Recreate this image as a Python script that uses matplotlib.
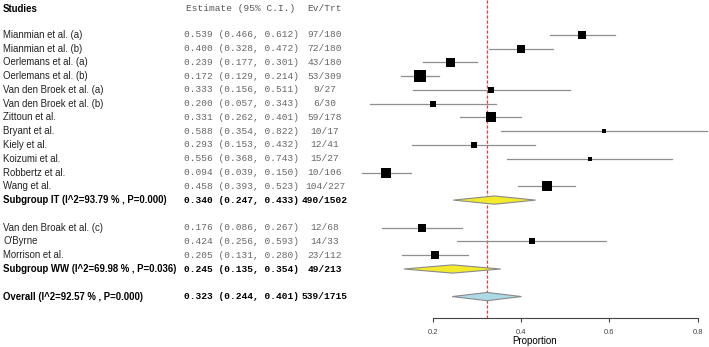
import matplotlib
matplotlib.use("Agg")
import matplotlib.pyplot as plt
from matplotlib.transforms import blended_transform_factory

# ---- data ----
studies = ["Mianmian et al. (a)", "Mianmian et al. (b)", "Oerlemans et al. (a)",
           "Oerlemans et al. (b)", "Van den Broek et al. (a)", "Van den Broek et al. (b)",
           "Zittoun et al.", "Bryant et al.", "Kiely et al.", "Koizumi et al.",
           "Robbertz et al.", "Wang et al.",
           "Van den Broak et al. (c)", "O'Byrne", "Morrison et al."]
est = [0.539, 0.400, 0.239, 0.172, 0.333, 0.200, 0.331, 0.588, 0.293, 0.556,
       0.094, 0.458, 0.176, 0.424, 0.205]
lo = [0.466, 0.328, 0.177, 0.129, 0.156, 0.057, 0.262, 0.354, 0.153, 0.368,
      0.039, 0.393, 0.086, 0.256, 0.131]
hi = [0.612, 0.472, 0.301, 0.214, 0.511, 0.343, 0.401, 0.822, 0.432, 0.743,
      0.150, 0.523, 0.267, 0.593, 0.280]
ev_trt = ["97/180", "72/180", "43/180", "53/309", "9/27", "6/30", "59/178",
          "10/17", "12/41", "15/27", "10/106", "104/227", "12/68", "14/33", "23/112"]
weight = [72, 72, 81, 144, 30, 36, 90, 20, 36, 25, 110, 90, 56, 30, 72]

summ_names = ["Subgroup IT (I^2=93.79 % , P=0.000)",
              "Subgroup WW (I^2=69.98 % , P=0.036)",
              "Overall (I^2=92.57 % , P=0.000)"]
summ_est = [0.340, 0.245, 0.323]
summ_lo = [0.247, 0.135, 0.244]
summ_hi = [0.433, 0.354, 0.401]
summ_ev = ["490/1502", "49/213", "539/1715"]
summ_color = ["#f2ea2c", "#f2ea2c", "#add8e6"]

ticks = [0.2, 0.4, 0.6, 0.8]

# ---- row layout ----
rows = list(range(12)) + [14, 15, 16]
summ_rows = [12, 17, 19]
axis_row = 20.53

fig = plt.figure(figsize=(7.09, 3.47), dpi=100)
ax = fig.add_axes([0, 0, 1, 1])
ax.set_xlim(-344.4 / 441.5, (709 - 344.4) / 441.5)
ax.set_ylim(22.66, -2.52)

SANS = "Liberation Sans"
MONO = "Liberation Mono"
NAME_FS, MONO_FS = 6.9, 6.8
tr = blended_transform_factory(fig.transFigure, ax.transData)
X_NAME, X_EST, X_EV = 3 / 709, 241 / 709, 325 / 709

# header
ax.text(X_NAME, -1.87, "Studies", transform=tr, fontsize=NAME_FS, family=SANS,
        weight="bold", va="center", ha="left")
ax.text(X_EST, -1.87, "Estimate (95% C.I.)", transform=tr, fontsize=MONO_FS,
        family=MONO, color="#555555", va="center", ha="center")
ax.text(X_EV, -1.87, "Ev/Trt", transform=tr, fontsize=MONO_FS, family=MONO,
        color="#555555", va="center", ha="center")

# studies
for r, name, e, l, h, et, w in zip(rows, studies, est, lo, hi, ev_trt, weight):
    ax.plot([l, h], [r, r], color="#8f8f8f", lw=0.9, zorder=2)
    ax.plot(e, r, marker="s", color="black", ms=0.72 * w ** 0.5, mew=0, zorder=3)
    ax.text(X_NAME, r, name, transform=tr, fontsize=NAME_FS, family=SANS,
            color="#222222", va="center", ha="left")
    ax.text(X_EST, r, f"{e:.3f} ({l:.3f}, {h:.3f})", transform=tr, fontsize=MONO_FS,
            family=MONO, color="#666666", va="center", ha="center")
    ax.text(X_EV, r, et, transform=tr, fontsize=MONO_FS, family=MONO,
            color="#666666", va="center", ha="center")

# summaries
for r, name, e, l, h, et, c in zip(summ_rows, summ_names, summ_est, summ_lo,
                                   summ_hi, summ_ev, summ_color):
    ax.fill([l, e, h, e], [r, r - 0.3, r, r + 0.3], facecolor=c,
            edgecolor="#8a8a8a", lw=0.8, zorder=3)
    ax.text(X_NAME, r, name, transform=tr, fontsize=NAME_FS, family=SANS,
            weight="bold", color="black", va="center", ha="left")
    ax.text(X_EST, r, f"{e:.3f} ({l:.3f}, {h:.3f})", transform=tr, fontsize=MONO_FS,
            family=MONO, weight="bold", color="black", va="center", ha="center")
    ax.text(X_EV, r, et, transform=tr, fontsize=MONO_FS, family=MONO,
            weight="bold", color="black", va="center", ha="center")

# overall reference line
ax.plot([summ_est[2], summ_est[2]], [-2.52, axis_row], color="#e23a34",
        lw=0.9, ls=(0, (2.5, 1.5)), zorder=1)

# bottom axis
for s in ["top", "left", "right"]:
    ax.spines[s].set_visible(False)
ax.spines["bottom"].set_position(("data", axis_row))
ax.spines["bottom"].set_bounds(ticks[0], ticks[-1])
ax.spines["bottom"].set_color("#444444")
ax.spines["bottom"].set_linewidth(0.8)
ax.set_xticks(ticks)
ax.set_xticklabels([f"{t:.1f}" for t in ticks], fontsize=5.5, family=SANS,
                   color="#444444")
ax.tick_params(axis="x", direction="out", length=3, width=0.8, color="#444444", pad=5)
ax.set_yticks([])
ax.text(0.43, 22.23, "Proportion", fontsize=7.0, family=SANS, ha="center", va="center")
ax.patch.set_alpha(0)

fig.savefig("out.png", dpi=100)
